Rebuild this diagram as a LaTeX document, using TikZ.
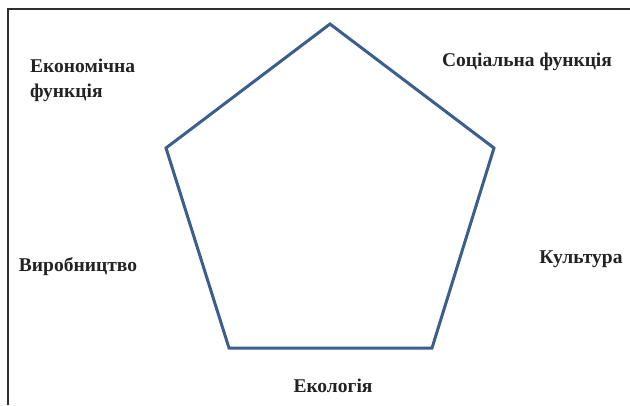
\documentclass[tikz,border=0pt]{standalone}
\usepackage{fontspec}
\setmainfont{Liberation Serif}
\usepackage{xcolor}
\usepackage{tikz}
\usetikzlibrary{calc}
\definecolor{edge}{HTML}{3B5E8C}
\definecolor{frame}{HTML}{2E2E2E}
\definecolor{text}{HTML}{222222}
\tikzset{
  side/.style={draw=edge, line width=3pt, line join=miter},
  rim/.style={draw=frame, line width=1.6pt},
  lab/.style={text=text, font=\fontsize{19.5}{25}\selectfont\bfseries, inner sep=0pt},
}
\begin{document}
\begin{tikzpicture}[x=1pt,y=-1pt]
  \useasboundingbox (0,0) rectangle (630,405);
  \draw[rim] (8,405) -- (8,9) -- (630,9);

  % pentagon corners (from the diagram)
  \coordinate (top) at (330,24);
  \coordinate (ur) at (494,148);
  \coordinate (lr) at (432,348);
  \coordinate (ll) at (229,348);
  \coordinate (ul) at (166,148);
  \draw[side] (top) -- (ur) -- (lr) -- (ll) -- (ul) -- cycle;

  \node[lab, anchor=base west, align=left] (econ) at (30,97) {Економічна\\функція};
  \node[lab, anchor=base] (soc) at (527,66) {Соціальна функція};
  \node[lab, anchor=base] (prod) at (78,271) {Виробництво};
  \node[lab, anchor=base] (cult) at (581,263) {Культура};
  \node[lab, anchor=base] (eco) at (333,392) {Екологія};
\end{tikzpicture}
\end{document}
